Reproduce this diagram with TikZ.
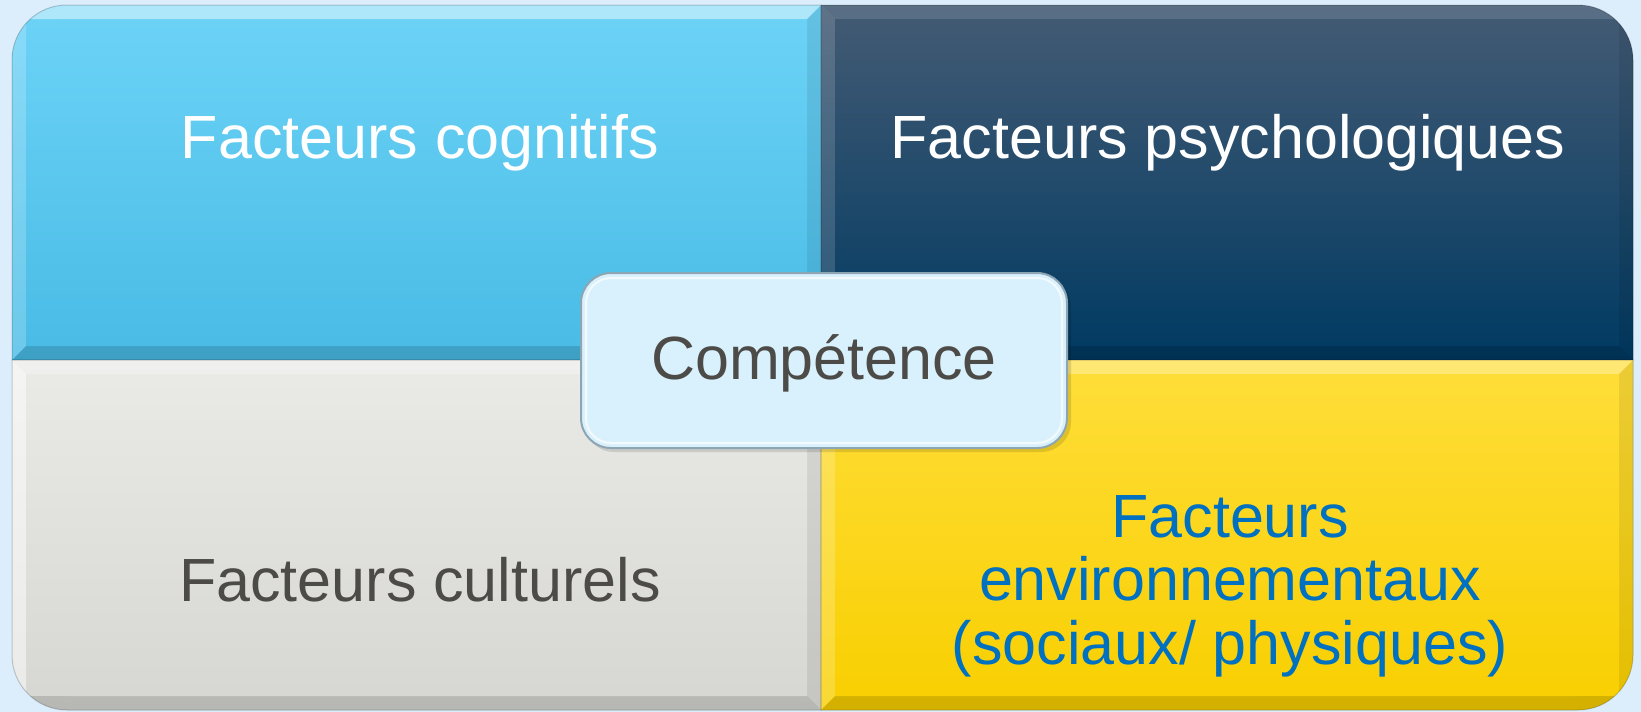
\documentclass[tikz,border=0pt]{standalone}
\usepackage{fontspec}
\setmainfont{Liberation Sans}
\definecolor{bgblue}{HTML}{DCEDFB}
\definecolor{cyanTop}{HTML}{6DD3F7}
\definecolor{cyanBot}{HTML}{48BBE5}
\definecolor{navyTop}{HTML}{445B74}
\definecolor{navyBot}{HTML}{003A62}
\definecolor{greyTop}{HTML}{EAEAE7}
\definecolor{greyBot}{HTML}{D6D7D2}
\definecolor{yelTop}{HTML}{FFDE3A}
\definecolor{yelBot}{HTML}{F8CF00}
\definecolor{compFill}{HTML}{D9F1FD}
\definecolor{compLine}{HTML}{8EA5B3}
\definecolor{darkText}{HTML}{4D4B48}
\definecolor{blueText}{HTML}{0070C0}
\newcommand\bw{14}
\newcommand\topop{.42}
\newcommand\leftop{.2}
% #1 outer path, #2 inner path, #3 x1, #4 y1, #5 x2, #6 y2, #7 top colour, #8 bottom colour
\newcommand\bevelpanel[8]{%
  \begin{scope}
    \clip #1;
    \shade[top color=#7, bottom color=#8] (#3,#4) rectangle (#5,#6);
    \fill[white, opacity=\topop] (#3,#4) -- (#5,#4) -- ({#5-\bw},{#4+\bw}) -- ({#3+\bw},{#4+\bw}) -- cycle;
    \fill[white, opacity=\leftop] (#3,#4) -- ({#3+\bw},{#4+\bw}) -- ({#3+\bw},{#6-\bw}) -- (#3,#6) -- cycle;
    \fill[black, opacity=.14] (#3,#6) -- ({#3+\bw},{#6-\bw}) -- ({#5-\bw},{#6-\bw}) -- (#5,#6) -- cycle;
    \fill[black, opacity=.08] (#5,#4) -- (#5,#6) -- ({#5-\bw},{#6-\bw}) -- ({#5-\bw},{#4+\bw}) -- cycle;
  \end{scope}
  \begin{scope}
    \clip #2;
    \shade[top color=#7, bottom color=#8] (#3,#4) rectangle (#5,#6);
  \end{scope}
  \draw[black, opacity=.18, line width=1pt] #1;
}
\tikzset{
  bigtext/.style={font=\fontsize{61pt}{63.5pt}\selectfont, inner sep=0pt, anchor=base},
  compbox/.style={draw=compLine, line width=2pt, fill=compFill, rounded corners=30pt,
    minimum width=486pt, minimum height=175pt, text=darkText,
    font=\fontsize{61pt}{63.5pt}\selectfont, text height=37pt, text depth=0pt}
}
\begin{document}
\begin{tikzpicture}[x=1pt, y=-1pt]
\useasboundingbox (0,0) rectangle (1641,712);
\fill[bgblue] (0,0) rectangle (1641,712);

% top-left
\renewcommand\topop{.45}\renewcommand\leftop{.2}
\bevelpanel{(821,360) -- (12,360) -- (12,60) .. controls (12,29.6) and (36.6,5) .. (67,5) -- (821,5) -- cycle}
  {(807,346) -- (26,346) -- (26,60) .. controls (26,37.4) and (44.4,19) .. (67,19) -- (807,19) -- cycle}
  {12}{5}{821}{360}{cyanTop}{cyanBot}
% top-right
\renewcommand\topop{.12}\renewcommand\leftop{.15}
\bevelpanel{(821,5) -- (1578,5) .. controls (1608.4,5) and (1633,29.6) .. (1633,60) -- (1633,360) -- (821,360) -- cycle}
  {(835,19) -- (1578,19) .. controls (1600.6,19) and (1619,37.4) .. (1619,60) -- (1619,346) -- (835,346) -- cycle}
  {821}{5}{1633}{360}{navyTop}{navyBot}
% bottom-left
\renewcommand\topop{.3}\renewcommand\leftop{.5}
\bevelpanel{(12,360) -- (12,655) .. controls (12,685.4) and (36.6,710) .. (67,710) -- (821,710) -- (821,360) -- cycle}
  {(26,374) -- (26,655) .. controls (26,677.6) and (44.4,696) .. (67,696) -- (807,696) -- (807,374) -- cycle}
  {12}{360}{821}{710}{greyTop}{greyBot}
% bottom-right
\renewcommand\topop{.3}\renewcommand\leftop{.2}
\bevelpanel{(821,360) -- (1633,360) -- (1633,655) .. controls (1633,685.4) and (1608.4,710) .. (1578,710) -- (821,710) -- cycle}
  {(835,374) -- (1619,374) -- (1619,655) .. controls (1619,677.6) and (1600.6,696) .. (1578,696) -- (835,696) -- cycle}
  {821}{360}{1633}{710}{yelTop}{yelBot}

\node[bigtext, text=white] (cog) at (420,158) {Facteurs cognitifs};
\node[bigtext, text=white] (psy) at (1228,158) {Facteurs psychologiques};
\node[bigtext, text=darkText] (cul) at (420,601) {Facteurs culturels};
\node[bigtext, text=blueText, align=center] (env) at (1230,664)
  {Facteurs\\environnementaux\\(sociaux/ physiques)};

% central box
\fill[black, opacity=.12, rounded corners=30pt] (584,277) rectangle (1071,452);
\node[compbox] (comp) at (824,360.5) {Compétence};
\draw[white, opacity=.7, line width=2pt, rounded corners=25pt] (586,278) rectangle (1062,443);
\end{tikzpicture}
\end{document}
